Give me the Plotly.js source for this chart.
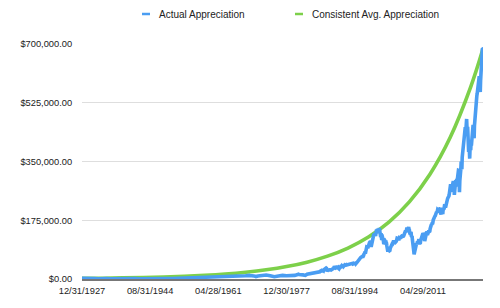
<!DOCTYPE html>
<html>
<head>
<meta charset="utf-8">
<script src="https://cdn.plot.ly/plotly-3.0.1.min.js"></script>
<style>html,body{margin:0;padding:0;background:#fff;}#chart{width:500px;height:308px;}</style>
</head>
<body>
<div id="chart"></div>
<script>
// Values are S&P-style index levels in hundreds of dollars ($ = level x 100)
const UNIT = 100;

// Early sparse observations (1927-1984)
const earlyDates = ['1927-12-31','1928-12-31','1929-08-31','1929-12-31','1930-12-31','1931-12-31','1932-05-31','1932-12-31','1933-12-31','1934-12-31','1935-12-31','1936-12-31','1937-02-28','1937-12-31','1938-12-31','1939-12-31','1940-12-31','1941-12-31','1942-04-30','1942-12-31','1943-12-31','1944-12-31','1945-12-31','1946-05-31','1946-12-31','1947-12-31','1948-12-31','1949-12-31','1950-12-31','1951-12-31','1952-12-31','1953-12-31','1954-12-31','1955-12-31','1956-12-31','1957-12-31','1958-12-31','1959-12-31','1960-12-31','1961-12-31','1962-06-30','1962-12-31','1963-12-31','1964-12-31','1965-12-31','1966-09-30','1966-12-31','1967-12-31','1968-11-30','1968-12-31','1969-12-31','1970-06-30','1970-12-31','1971-12-31','1972-12-31','1973-12-31','1974-09-30','1974-12-31','1975-12-31','1976-12-31','1977-12-31','1978-12-31','1979-12-31','1980-11-30','1980-12-31','1981-12-31','1982-07-31','1982-12-31','1983-12-31','1984-12-31'];
const earlyValues = [17.66,24.35,31.71,21.45,15.34,8.12,4.47,6.89,10.10,9.50,13.43,17.18,18.11,10.55,13.21,12.49,10.58,8.69,7.84,9.77,11.67,13.28,17.36,19.25,15.30,15.30,15.20,16.76,20.41,23.77,26.57,24.81,35.98,45.48,46.67,39.99,55.21,59.89,58.11,71.55,54.75,63.10,75.02,84.75,92.43,76.56,80.33,96.47,108.37,103.86,92.06,72.72,92.15,102.09,118.05,97.55,63.54,68.56,90.19,107.46,95.10,96.11,107.94,140.52,135.76,122.55,107.09,140.64,164.93,167.24];

// Monthly month-end observations, Jan 1985 .. Dec 2025
const monthlyStartYear = 1985;
const monthlyValues = [
179.6,181.2,180.7,179.8,189.6,191.9,190.9,188.6,182.1,189.8,202.2,211.3,
211.8,226.9,238.9,235.5,247.4,250.8,236.1,252.9,231.3,244.0,249.2,242.2,
274.1,284.2,291.7,288.4,290.1,304.0,318.7,329.8,321.8,251.8,230.3,247.1,
257.1,267.8,258.9,261.3,262.2,273.5,272.0,261.5,271.9,279.0,273.7,277.7,
297.5,288.9,294.9,309.6,320.5,318.0,346.1,351.5,349.2,340.4,346.0,353.4,
329.1,331.9,339.9,330.8,361.2,358.0,356.2,322.6,306.1,304.0,322.2,330.2,
343.9,367.1,375.2,375.3,389.8,371.2,387.8,395.4,387.9,392.5,375.2,417.1,
408.8,412.7,403.7,415.0,415.4,408.1,424.2,414.0,417.8,418.7,431.4,435.7,
438.8,443.4,451.7,440.2,450.2,450.5,448.1,463.6,458.9,467.8,461.8,466.5,
481.6,467.1,445.8,450.9,456.5,444.3,458.3,475.5,462.7,472.4,453.7,459.3,
470.4,487.4,500.7,514.7,533.4,544.8,562.1,561.9,584.4,581.5,605.4,615.9,
636.0,640.4,645.5,654.2,669.1,670.6,640.0,652.0,687.3,705.3,757.0,740.7,
786.2,790.8,757.1,801.3,848.3,885.1,954.3,899.5,947.3,914.6,955.4,970.4,
980.3,1049.3,1101.8,1111.8,1090.8,1133.8,1120.7,957.3,1017.0,1098.7,1163.6,1229.2,
1279.6,1238.3,1286.4,1335.2,1301.8,1372.7,1328.7,1320.4,1282.7,1362.9,1388.9,1469.3,
1394.5,1366.4,1498.6,1452.4,1420.6,1454.6,1430.8,1517.7,1436.5,1429.4,1315.2,1320.3,
1366.0,1239.9,1160.3,1249.5,1255.8,1224.4,1211.2,1133.6,1040.9,1059.8,1139.5,1148.1,
1130.2,1106.7,1147.4,1076.9,1067.1,989.8,911.6,916.1,815.3,885.8,936.3,879.8,
855.7,841.2,848.2,916.9,963.6,974.5,990.3,1008.0,996.0,1050.7,1058.2,1111.9,
1131.1,1144.9,1126.2,1107.3,1120.7,1140.8,1101.7,1104.2,1114.6,1130.2,1173.8,1211.9,
1181.3,1203.6,1180.6,1156.9,1191.5,1191.3,1234.2,1220.3,1228.8,1207.0,1249.5,1248.3,
1280.1,1280.7,1294.9,1310.6,1270.1,1270.2,1276.7,1303.8,1335.9,1377.9,1400.6,1418.3,
1438.2,1406.8,1420.9,1482.4,1530.6,1503.4,1455.3,1474.0,1526.8,1549.4,1481.1,1468.4,
1378.6,1330.6,1322.7,1385.6,1400.4,1280.0,1267.4,1282.8,1166.4,968.8,896.2,903.3,
825.9,735.1,797.9,872.8,919.1,919.3,987.5,1020.6,1057.1,1036.2,1095.6,1115.1,
1073.9,1104.5,1169.4,1186.7,1089.4,1030.7,1101.6,1049.3,1141.2,1183.3,1180.6,1257.6,
1286.1,1327.2,1325.8,1363.6,1345.2,1320.6,1292.3,1218.9,1131.4,1253.3,1247.0,1257.6,
1312.4,1365.7,1408.5,1397.9,1310.3,1362.2,1379.3,1406.6,1440.7,1412.2,1416.2,1426.2,
1498.1,1514.7,1569.2,1597.6,1630.7,1606.3,1685.7,1633.0,1681.6,1756.5,1805.8,1848.4,
1782.6,1859.5,1872.3,1884.0,1923.6,1960.2,1930.7,2003.4,1972.3,2018.1,2067.6,2058.9,
1995.0,2104.5,2067.9,2085.5,2107.4,2063.1,2103.8,1972.2,1920.0,2079.4,2080.4,2043.9,
1940.2,1932.2,2059.7,2065.3,2097.0,2098.9,2173.6,2171.0,2168.3,2126.2,2199.0,2238.8,
2278.9,2363.6,2362.7,2384.2,2411.8,2423.4,2470.3,2471.7,2519.4,2575.3,2647.6,2673.6,
2823.8,2713.8,2640.9,2648.1,2705.3,2718.4,2816.3,2901.5,2914.0,2711.7,2760.2,2506.9,
2704.1,2784.5,2834.4,2945.8,2752.1,2941.8,2980.4,2926.5,2976.7,3037.6,3141.0,3230.8,
3225.5,2954.2,2584.6,2912.4,3044.3,3100.3,3271.1,3500.3,3363.0,3270.0,3621.6,3756.1,
3714.2,3811.2,3972.9,4181.2,4204.1,4297.5,4395.3,4522.7,4307.5,4605.4,4567.0,4766.2,
4515.6,4373.9,4530.4,4131.9,4132.2,3785.4,4130.3,3955.0,3585.6,3872.0,4080.1,3839.5,
4076.6,3970.2,4109.3,4169.5,4179.8,4450.4,4589.0,4507.7,4288.1,4193.8,4567.8,4769.8,
4845.7,5096.3,5254.4,5035.7,5277.5,5460.5,5522.3,5648.4,5762.5,5705.5,6032.4,5881.6,
6040.5,5954.5,5611.9,5569.1,5911.7,6205.0,6339.4,6460.3,6688.5,6840.2,6849.1,6845.5
];

// Consistent average appreciation curve, read at 5-year steps (dollars)
const avgDates = ['1927-12-31','1932-12-31','1937-12-31','1942-12-31','1947-12-31','1952-12-31','1957-12-31','1962-12-31','1967-12-31','1972-12-31','1977-12-31','1982-12-31','1987-12-31','1992-12-31','1997-12-31','2002-12-31','2007-12-31','2012-12-31','2017-12-31','2022-12-31','2025-12-31'];
const avgValues = [1766,2393,3245,4400,5964,8085,10960,14860,20140,27300,37010,50170,68020,92190,124980,169460,229700,311400,422100,572200,685500];

// Axis ticks
const xTickVals = ['1927-12-31','1944-08-31','1961-04-28','1977-12-30','1994-08-31','2011-04-29'];
const xTickText = ['12/31/1927','08/31/1944','04/28/1961','12/30/1977','08/31/1994','04/29/2011'];
const yTickVals = [0,175000,350000,525000,700000];
const yTickText = ['$0.00','$175,000.00','$350,000.00','$525,000.00','$700,000.00'];

const seriesNames = ['Actual Appreciation','Consistent Avg. Appreciation'];
const seriesColors = ['#4a9df2','#7dd04a'];

// Build actual series
function monthEnd(y, m) {
  return new Date(Date.UTC(y, m + 1, 0)).toISOString().slice(0, 10);
}
const actualX = earlyDates.slice();
const actualY = earlyValues.map(v => v * UNIT);
monthlyValues.forEach((v, i) => {
  const y = monthlyStartYear + Math.floor(i / 12);
  const m = i % 12;
  actualX.push(monthEnd(y, m));
  actualY.push(v * UNIT);
});

const traces = [
  {x: avgDates, y: avgValues, type: 'scatter', mode: 'lines', name: seriesNames[1],
   line: {color: seriesColors[1], width: 3.6, shape: 'spline'}, cliponaxis: false},
  {x: actualX, y: actualY, type: 'scatter', mode: 'lines', name: seriesNames[0],
   line: {color: seriesColors[0], width: 3.6}, cliponaxis: false}
];

const L = 82, R = 17, T = 44, B = 29, W = 500, H = 308;
const pw = W - L - R, ph = H - T - B;
const px = x => (x - L) / pw;
const py = y => (H - B - y) / ph;

const legendY = 14;
const legendItems = [
  {dash: [142, 150], text: 157},
  {dash: [295, 303], text: 310}
];
const shapes = legendItems.map((it, i) => ({
  type: 'line', xref: 'paper', yref: 'paper',
  x0: px(it.dash[0]), x1: px(it.dash[1]), y0: py(legendY), y1: py(legendY),
  line: {color: seriesColors[i], width: 2.5}
}));
const annotations = legendItems.map((it, i) => ({
  xref: 'paper', yref: 'paper', x: px(it.text), y: py(legendY),
  xanchor: 'left', yanchor: 'middle', showarrow: false,
  text: seriesNames[i], font: {size: 10, color: '#222'}
}));

const layout = {
  width: W, height: H,
  margin: {l: L, r: R, t: T, b: B, pad: 0},
  paper_bgcolor: '#fff', plot_bgcolor: '#fff',
  font: {family: '"Liberation Sans", Arial, Helvetica, sans-serif', size: 9.3, color: '#222'},
  showlegend: false,
  xaxis: {
    type: 'date', range: ['1927-12-31', '2025-12-31'],
    tickmode: 'array', tickvals: xTickVals, ticktext: xTickText,
    showgrid: false, zeroline: false,
    showline: true, linecolor: '#777', linewidth: 1.5,
    ticks: 'outside', ticklen: 2, tickcolor: 'rgba(0,0,0,0)',
    layer: 'below traces', fixedrange: true
  },
  yaxis: {
    range: [0, 700000], tickmode: 'array', tickvals: yTickVals, ticktext: yTickText,
    showgrid: true, gridcolor: '#dedede', gridwidth: 1,
    zeroline: false, showline: false,
    ticks: 'outside', ticklen: 7, tickcolor: 'rgba(0,0,0,0)',
    fixedrange: true
  },
  shapes: shapes,
  annotations: annotations
};

Plotly.newPlot('chart', traces, layout, {displayModeBar: false, staticPlot: true});
</script>
</body>
</html>
